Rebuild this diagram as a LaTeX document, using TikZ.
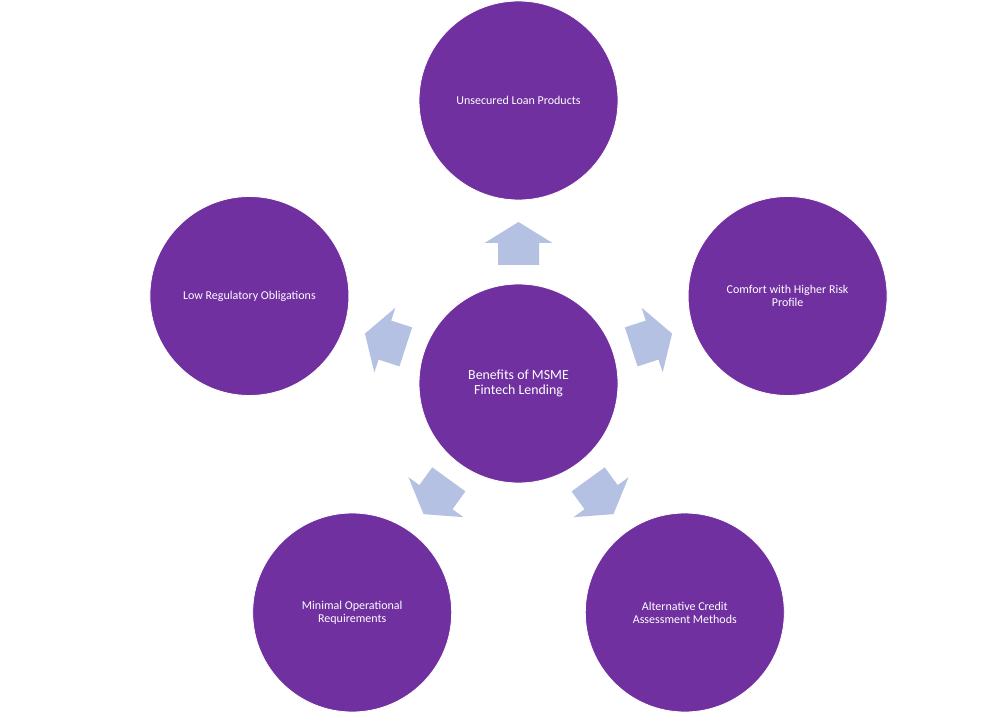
\documentclass[tikz,border=0pt]{standalone}
\usepackage{fontspec}
\setmainfont{Carlito}
\definecolor{purp}{RGB}{112,48,160}
\definecolor{arrowblue}{RGB}{180,193,226}
\newcommand\blockarrow[2]{%
  \begin{scope}[shift={(#1)}, rotate=#2]
    \fill[arrowblue] (118.5,-20.5) -- (140.5,-20.5) -- (140.5,-34) -- (161.5,0)
      -- (140.5,34) -- (140.5,20.5) -- (118.5,20.5) -- cycle;
  \end{scope}}
\begin{document}
\begin{tikzpicture}[x=0.75pt,y=-0.75pt,
  circ/.style={circle, fill=purp, draw=white, line width=0.6pt, inner sep=0pt,
    minimum size=149.25pt, text=white, align=center,
    font=\fontsize{9}{9.6}\selectfont},
  hub/.style={circ, font=\fontsize{10.4}{11.2}\selectfont}]
\useasboundingbox (0,0) rectangle (1006,727);
\node[hub]  (c)  at (518.5,383.5) {Benefits of MSME\\Fintech Lending};
\node[circ] (t)  at (518.5,100.5) {Unsecured Loan Products};
\node[circ] (r)  at (787.6,296)   {Comfort with Higher Risk\\Profile};
\node[circ] (l)  at (249.4,296)   {Low Regulatory Obligations};
\node[circ] (br) at (684.8,612.5) {Alternative Credit\\Assessment Methods};
\node[circ] (bl) at (352.2,612.5) {Minimal Operational\\Requirements};
\blockarrow{c}{90}
\blockarrow{c}{18}
\blockarrow{c}{162}
\blockarrow{c}{234}
\blockarrow{c}{306}
\end{tikzpicture}
\end{document}
